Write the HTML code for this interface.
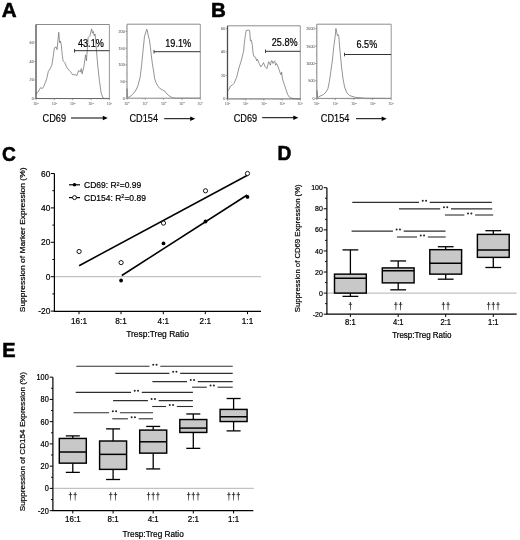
<!DOCTYPE html>
<html><head><meta charset="utf-8"><style>
html,body{margin:0;padding:0;background:#fff;}
svg{display:block;will-change:transform;}
svg text{font-family:"Liberation Sans", sans-serif;}
</style></head><body>
<svg width="520" height="540" viewBox="0 0 520 540" font-family='"Liberation Sans", sans-serif'>
<rect width="520" height="540" fill="#fff"/>
<text transform="translate(1.7,16.7) scale(1.03,1.03)" font-size="20" font-weight="bold" fill="#000" stroke="#000" stroke-width="0.55">A</text>
<text transform="translate(210.9,16.7) scale(1.03,1.03)" font-size="20" font-weight="bold" fill="#000" stroke="#000" stroke-width="0.55">B</text>
<text transform="translate(2.0,160.8) scale(0.96,1.04)" font-size="20" font-weight="bold" fill="#000" stroke="#000" stroke-width="0.55">C</text>
<text transform="translate(277.4,160.4) scale(0.96,1.03)" font-size="20" font-weight="bold" fill="#000" stroke="#000" stroke-width="0.55">D</text>
<text transform="translate(2.2,356.8) scale(1.0,1.03)" font-size="20" font-weight="bold" fill="#000" stroke="#000" stroke-width="0.55">E</text>
<polyline points="35.9,93.75 37.98,92.02 40.58,87.69 42.31,88.56 44.04,85.96 46.63,79.04 48.37,71.25 50.1,68.65 51.83,65.19 52.69,60 54.42,47.88 56.15,47.02 57.02,49.62 57.88,40.96 58.75,32.31 59.62,42.69 60.48,40.96 61.35,45.29 62.21,54.81 63.08,60.87 64.81,62.6 66.54,66.92 69.13,70.38 70.87,72.12 72.6,74.71 75.19,74.71 76.92,75.58 78.65,70.38 80.38,72.12 81.25,68.65 82.12,73.85 83.85,66.92 85.58,54.81 86.44,60.87 87.31,49.62 88.17,37.5 89.9,35.77 91.63,28.85 92.5,33.17 93.37,31.44 94.23,35.77 95.1,34.04 95.96,44.42 97.69,65.19 99.42,80.77 101.15,92.88 102.88,97.73 104.62,98.42 109.81,98.42" fill="none" stroke="#707070" stroke-width="0.75" stroke-linejoin="round"/>
<line x1="36" y1="24.5" x2="109.4" y2="24.5" stroke="#8c8c8c" stroke-width="1.0"/>
<line x1="109.4" y1="24.5" x2="109.4" y2="98.5" stroke="#8c8c8c" stroke-width="0.9"/>
<line x1="36" y1="98.5" x2="109.4" y2="98.5" stroke="#666" stroke-width="1.0"/>
<line x1="36" y1="24.5" x2="36" y2="98.5" stroke="#4a4a4a" stroke-width="1.3"/>
<line x1="34.4" y1="98.5" x2="36" y2="98.5" stroke="#777" stroke-width="0.7"/>
<text transform="translate(33.7,99.8)" font-size="3.7" text-anchor="end" font-weight="normal" fill="#777" stroke="#777" stroke-width="0.12" >0</text>
<line x1="35" y1="89.2" x2="36" y2="89.2" stroke="#999" stroke-width="0.6"/>
<line x1="34.4" y1="79.9" x2="36" y2="79.9" stroke="#777" stroke-width="0.7"/>
<text transform="translate(33.7,81.2)" font-size="3.7" text-anchor="end" font-weight="normal" fill="#777" stroke="#777" stroke-width="0.12" >20</text>
<line x1="35" y1="70.65" x2="36" y2="70.65" stroke="#999" stroke-width="0.6"/>
<line x1="34.4" y1="61.4" x2="36" y2="61.4" stroke="#777" stroke-width="0.7"/>
<text transform="translate(33.7,62.7)" font-size="3.7" text-anchor="end" font-weight="normal" fill="#777" stroke="#777" stroke-width="0.12" >40</text>
<line x1="35" y1="51.8" x2="36" y2="51.8" stroke="#999" stroke-width="0.6"/>
<line x1="34.4" y1="42.2" x2="36" y2="42.2" stroke="#777" stroke-width="0.7"/>
<text transform="translate(33.7,43.5)" font-size="3.7" text-anchor="end" font-weight="normal" fill="#777" stroke="#777" stroke-width="0.12" >60</text>
<line x1="36" y1="98.5" x2="36" y2="100.1" stroke="#777" stroke-width="0.7"/>
<text x="36" y="104.9" font-size="3.6" text-anchor="middle" fill="#888" stroke="#888" stroke-width="0.12">10<tspan font-size="2.5" dy="-1.3">0</tspan></text>
<line x1="41.52" y1="98.5" x2="41.52" y2="99.4" stroke="#999" stroke-width="0.5"/>
<line x1="44.76" y1="98.5" x2="44.76" y2="99.4" stroke="#999" stroke-width="0.5"/>
<line x1="47.05" y1="98.5" x2="47.05" y2="99.4" stroke="#999" stroke-width="0.5"/>
<line x1="48.83" y1="98.5" x2="48.83" y2="99.4" stroke="#999" stroke-width="0.5"/>
<line x1="50.28" y1="98.5" x2="50.28" y2="99.4" stroke="#999" stroke-width="0.5"/>
<line x1="51.51" y1="98.5" x2="51.51" y2="99.4" stroke="#999" stroke-width="0.5"/>
<line x1="52.57" y1="98.5" x2="52.57" y2="99.4" stroke="#999" stroke-width="0.5"/>
<line x1="53.51" y1="98.5" x2="53.51" y2="99.4" stroke="#999" stroke-width="0.5"/>
<line x1="54.35" y1="98.5" x2="54.35" y2="100.1" stroke="#777" stroke-width="0.7"/>
<text x="54.35" y="104.9" font-size="3.6" text-anchor="middle" fill="#888" stroke="#888" stroke-width="0.12">10<tspan font-size="2.5" dy="-1.3">1</tspan></text>
<line x1="59.87" y1="98.5" x2="59.87" y2="99.4" stroke="#999" stroke-width="0.5"/>
<line x1="63.11" y1="98.5" x2="63.11" y2="99.4" stroke="#999" stroke-width="0.5"/>
<line x1="65.4" y1="98.5" x2="65.4" y2="99.4" stroke="#999" stroke-width="0.5"/>
<line x1="67.18" y1="98.5" x2="67.18" y2="99.4" stroke="#999" stroke-width="0.5"/>
<line x1="68.63" y1="98.5" x2="68.63" y2="99.4" stroke="#999" stroke-width="0.5"/>
<line x1="69.86" y1="98.5" x2="69.86" y2="99.4" stroke="#999" stroke-width="0.5"/>
<line x1="70.92" y1="98.5" x2="70.92" y2="99.4" stroke="#999" stroke-width="0.5"/>
<line x1="71.86" y1="98.5" x2="71.86" y2="99.4" stroke="#999" stroke-width="0.5"/>
<line x1="72.7" y1="98.5" x2="72.7" y2="100.1" stroke="#777" stroke-width="0.7"/>
<text x="72.7" y="104.9" font-size="3.6" text-anchor="middle" fill="#888" stroke="#888" stroke-width="0.12">10<tspan font-size="2.5" dy="-1.3">2</tspan></text>
<line x1="78.22" y1="98.5" x2="78.22" y2="99.4" stroke="#999" stroke-width="0.5"/>
<line x1="81.46" y1="98.5" x2="81.46" y2="99.4" stroke="#999" stroke-width="0.5"/>
<line x1="83.75" y1="98.5" x2="83.75" y2="99.4" stroke="#999" stroke-width="0.5"/>
<line x1="85.53" y1="98.5" x2="85.53" y2="99.4" stroke="#999" stroke-width="0.5"/>
<line x1="86.98" y1="98.5" x2="86.98" y2="99.4" stroke="#999" stroke-width="0.5"/>
<line x1="88.21" y1="98.5" x2="88.21" y2="99.4" stroke="#999" stroke-width="0.5"/>
<line x1="89.27" y1="98.5" x2="89.27" y2="99.4" stroke="#999" stroke-width="0.5"/>
<line x1="90.21" y1="98.5" x2="90.21" y2="99.4" stroke="#999" stroke-width="0.5"/>
<line x1="91.05" y1="98.5" x2="91.05" y2="100.1" stroke="#777" stroke-width="0.7"/>
<text x="91.05" y="104.9" font-size="3.6" text-anchor="middle" fill="#888" stroke="#888" stroke-width="0.12">10<tspan font-size="2.5" dy="-1.3">3</tspan></text>
<line x1="96.57" y1="98.5" x2="96.57" y2="99.4" stroke="#999" stroke-width="0.5"/>
<line x1="99.81" y1="98.5" x2="99.81" y2="99.4" stroke="#999" stroke-width="0.5"/>
<line x1="102.1" y1="98.5" x2="102.1" y2="99.4" stroke="#999" stroke-width="0.5"/>
<line x1="103.88" y1="98.5" x2="103.88" y2="99.4" stroke="#999" stroke-width="0.5"/>
<line x1="105.33" y1="98.5" x2="105.33" y2="99.4" stroke="#999" stroke-width="0.5"/>
<line x1="106.56" y1="98.5" x2="106.56" y2="99.4" stroke="#999" stroke-width="0.5"/>
<line x1="107.62" y1="98.5" x2="107.62" y2="99.4" stroke="#999" stroke-width="0.5"/>
<line x1="108.56" y1="98.5" x2="108.56" y2="99.4" stroke="#999" stroke-width="0.5"/>
<line x1="109.4" y1="98.5" x2="109.4" y2="100.1" stroke="#777" stroke-width="0.7"/>
<text x="109.4" y="104.9" font-size="3.6" text-anchor="middle" fill="#888" stroke="#888" stroke-width="0.12">10<tspan font-size="2.5" dy="-1.3">4</tspan></text>
<line x1="74.5" y1="50.7" x2="109.4" y2="50.7" stroke="#333" stroke-width="1.0"/>
<line x1="74.5" y1="48.9" x2="74.5" y2="52.5" stroke="#333" stroke-width="0.9"/>
<text transform="translate(78,46.7) scale(1,1.1)" font-size="9.1" text-anchor="start" font-weight="normal" fill="#000" stroke="#000" stroke-width="0.2" >43.1%</text>
<text transform="translate(42.5,121.8) scale(1,1.1)" font-size="9.2" text-anchor="start" font-weight="normal" fill="#000" stroke="#000" stroke-width="0.15" >CD69</text>
<line x1="71" y1="118" x2="103.8" y2="118" stroke="#000" stroke-width="1.0"/>
<path d="M102.8,115.8 L107.8,118 L102.8,120.2 Z" fill="#000"/>
<polyline points="127,98.2 127,88.5 127.6,97.6 130,96.6 133.7,93.3 136,90 138,85.5 140.2,76.9 141.6,65.3 143,50.9 144.5,36.4 145.9,32.1 146.7,29.2 147.4,30.7 148.1,35 149.3,39.3 150.3,46.5 151.3,55.2 152.4,63.9 153.6,71.1 154.6,78.3 156,82.6 157.5,85.5 159.7,88.4 162.5,89.9 165,91.3 167,94 170,96.5 172.5,97.7 176,98.2 200.3,98.2" fill="none" stroke="#707070" stroke-width="0.75" stroke-linejoin="round"/>
<line x1="127" y1="24.2" x2="200.3" y2="24.2" stroke="#8c8c8c" stroke-width="1.0"/>
<line x1="200.3" y1="24.2" x2="200.3" y2="98.2" stroke="#8c8c8c" stroke-width="0.9"/>
<line x1="127" y1="98.2" x2="200.3" y2="98.2" stroke="#888" stroke-width="1.0"/>
<line x1="127" y1="24.2" x2="127" y2="98.2" stroke="#8a8a8a" stroke-width="1.1"/>
<line x1="125.4" y1="98.2" x2="127" y2="98.2" stroke="#777" stroke-width="0.7"/>
<text transform="translate(124.7,99.5)" font-size="3.7" text-anchor="end" font-weight="normal" fill="#777" stroke="#777" stroke-width="0.12" >0</text>
<line x1="126" y1="89.9" x2="127" y2="89.9" stroke="#999" stroke-width="0.6"/>
<line x1="125.4" y1="81.6" x2="127" y2="81.6" stroke="#777" stroke-width="0.7"/>
<text transform="translate(124.7,82.9)" font-size="3.7" text-anchor="end" font-weight="normal" fill="#777" stroke="#777" stroke-width="0.12" >50</text>
<line x1="126" y1="73.2" x2="127" y2="73.2" stroke="#999" stroke-width="0.6"/>
<line x1="125.4" y1="64.8" x2="127" y2="64.8" stroke="#777" stroke-width="0.7"/>
<text transform="translate(124.7,66.1)" font-size="3.7" text-anchor="end" font-weight="normal" fill="#777" stroke="#777" stroke-width="0.12" >100</text>
<line x1="126" y1="56.5" x2="127" y2="56.5" stroke="#999" stroke-width="0.6"/>
<line x1="125.4" y1="48.2" x2="127" y2="48.2" stroke="#777" stroke-width="0.7"/>
<text transform="translate(124.7,49.5)" font-size="3.7" text-anchor="end" font-weight="normal" fill="#777" stroke="#777" stroke-width="0.12" >150</text>
<line x1="126" y1="39.8" x2="127" y2="39.8" stroke="#999" stroke-width="0.6"/>
<line x1="125.4" y1="31.4" x2="127" y2="31.4" stroke="#777" stroke-width="0.7"/>
<text transform="translate(124.7,32.7)" font-size="3.7" text-anchor="end" font-weight="normal" fill="#777" stroke="#777" stroke-width="0.12" >200</text>
<line x1="127" y1="98.2" x2="127" y2="99.8" stroke="#777" stroke-width="0.7"/>
<text x="127" y="104.6" font-size="3.6" text-anchor="middle" fill="#888" stroke="#888" stroke-width="0.12">10<tspan font-size="2.5" dy="-1.3">0</tspan></text>
<line x1="132.52" y1="98.2" x2="132.52" y2="99.1" stroke="#999" stroke-width="0.5"/>
<line x1="135.74" y1="98.2" x2="135.74" y2="99.1" stroke="#999" stroke-width="0.5"/>
<line x1="138.03" y1="98.2" x2="138.03" y2="99.1" stroke="#999" stroke-width="0.5"/>
<line x1="139.81" y1="98.2" x2="139.81" y2="99.1" stroke="#999" stroke-width="0.5"/>
<line x1="141.26" y1="98.2" x2="141.26" y2="99.1" stroke="#999" stroke-width="0.5"/>
<line x1="142.49" y1="98.2" x2="142.49" y2="99.1" stroke="#999" stroke-width="0.5"/>
<line x1="143.55" y1="98.2" x2="143.55" y2="99.1" stroke="#999" stroke-width="0.5"/>
<line x1="144.49" y1="98.2" x2="144.49" y2="99.1" stroke="#999" stroke-width="0.5"/>
<line x1="145.32" y1="98.2" x2="145.32" y2="99.8" stroke="#777" stroke-width="0.7"/>
<text x="145.32" y="104.6" font-size="3.6" text-anchor="middle" fill="#888" stroke="#888" stroke-width="0.12">10<tspan font-size="2.5" dy="-1.3">1</tspan></text>
<line x1="150.84" y1="98.2" x2="150.84" y2="99.1" stroke="#999" stroke-width="0.5"/>
<line x1="154.07" y1="98.2" x2="154.07" y2="99.1" stroke="#999" stroke-width="0.5"/>
<line x1="156.36" y1="98.2" x2="156.36" y2="99.1" stroke="#999" stroke-width="0.5"/>
<line x1="158.13" y1="98.2" x2="158.13" y2="99.1" stroke="#999" stroke-width="0.5"/>
<line x1="159.58" y1="98.2" x2="159.58" y2="99.1" stroke="#999" stroke-width="0.5"/>
<line x1="160.81" y1="98.2" x2="160.81" y2="99.1" stroke="#999" stroke-width="0.5"/>
<line x1="161.87" y1="98.2" x2="161.87" y2="99.1" stroke="#999" stroke-width="0.5"/>
<line x1="162.81" y1="98.2" x2="162.81" y2="99.1" stroke="#999" stroke-width="0.5"/>
<line x1="163.65" y1="98.2" x2="163.65" y2="99.8" stroke="#777" stroke-width="0.7"/>
<text x="163.65" y="104.6" font-size="3.6" text-anchor="middle" fill="#888" stroke="#888" stroke-width="0.12">10<tspan font-size="2.5" dy="-1.3">2</tspan></text>
<line x1="169.17" y1="98.2" x2="169.17" y2="99.1" stroke="#999" stroke-width="0.5"/>
<line x1="172.39" y1="98.2" x2="172.39" y2="99.1" stroke="#999" stroke-width="0.5"/>
<line x1="174.68" y1="98.2" x2="174.68" y2="99.1" stroke="#999" stroke-width="0.5"/>
<line x1="176.46" y1="98.2" x2="176.46" y2="99.1" stroke="#999" stroke-width="0.5"/>
<line x1="177.91" y1="98.2" x2="177.91" y2="99.1" stroke="#999" stroke-width="0.5"/>
<line x1="179.14" y1="98.2" x2="179.14" y2="99.1" stroke="#999" stroke-width="0.5"/>
<line x1="180.2" y1="98.2" x2="180.2" y2="99.1" stroke="#999" stroke-width="0.5"/>
<line x1="181.14" y1="98.2" x2="181.14" y2="99.1" stroke="#999" stroke-width="0.5"/>
<line x1="181.98" y1="98.2" x2="181.98" y2="99.8" stroke="#777" stroke-width="0.7"/>
<text x="181.98" y="104.6" font-size="3.6" text-anchor="middle" fill="#888" stroke="#888" stroke-width="0.12">10<tspan font-size="2.5" dy="-1.3">3</tspan></text>
<line x1="187.49" y1="98.2" x2="187.49" y2="99.1" stroke="#999" stroke-width="0.5"/>
<line x1="190.72" y1="98.2" x2="190.72" y2="99.1" stroke="#999" stroke-width="0.5"/>
<line x1="193.01" y1="98.2" x2="193.01" y2="99.1" stroke="#999" stroke-width="0.5"/>
<line x1="194.78" y1="98.2" x2="194.78" y2="99.1" stroke="#999" stroke-width="0.5"/>
<line x1="196.23" y1="98.2" x2="196.23" y2="99.1" stroke="#999" stroke-width="0.5"/>
<line x1="197.46" y1="98.2" x2="197.46" y2="99.1" stroke="#999" stroke-width="0.5"/>
<line x1="198.52" y1="98.2" x2="198.52" y2="99.1" stroke="#999" stroke-width="0.5"/>
<line x1="199.46" y1="98.2" x2="199.46" y2="99.1" stroke="#999" stroke-width="0.5"/>
<line x1="200.3" y1="98.2" x2="200.3" y2="99.8" stroke="#777" stroke-width="0.7"/>
<text x="200.3" y="104.6" font-size="3.6" text-anchor="middle" fill="#888" stroke="#888" stroke-width="0.12">10<tspan font-size="2.5" dy="-1.3">4</tspan></text>
<line x1="154" y1="51.7" x2="200.3" y2="51.7" stroke="#333" stroke-width="1.0"/>
<line x1="154" y1="49.9" x2="154" y2="53.5" stroke="#333" stroke-width="0.9"/>
<text transform="translate(165.3,46.9) scale(1,1.1)" font-size="9.1" text-anchor="start" font-weight="normal" fill="#000" stroke="#000" stroke-width="0.2" >19.1%</text>
<text transform="translate(129.4,122.1) scale(1,1.1)" font-size="9.2" text-anchor="start" font-weight="normal" fill="#000" stroke="#000" stroke-width="0.15" >CD154</text>
<line x1="164.2" y1="118.7" x2="191.2" y2="118.7" stroke="#000" stroke-width="1.0"/>
<path d="M190.2,116.5 L195.2,118.7 L190.2,120.9 Z" fill="#000"/>
<polyline points="227.46,91.15 228.85,89.42 230.58,85.96 232.31,85.1 234.04,83.37 236.63,77.31 239.23,66.92 240.96,61.73 242.69,54.81 243.56,51.35 244.42,42.69 245.29,35.77 246.15,30.58 247.02,30.23 248.75,30.23 249.62,30.58 250.48,40.96 251.35,40.1 252.21,44.42 253.08,53.08 253.94,56.54 255.67,57.4 256.54,60.87 257.4,59.13 259.13,63.46 260.87,66.92 262.6,64.33 263.46,62.6 265.19,66.92 266.92,68.65 267.79,65.19 268.65,61.73 269.52,63.46 270.38,65.19 271.25,60.87 272.12,60.87 272.98,63.46 273.85,61.73 274.71,60.87 275.58,65.19 276.44,63.46 278.17,66.92 279.9,72.12 280.77,74.71 281.63,72.12 282.5,79.04 284.23,84.23 285.96,89.42 287.69,94.62 289.42,97.21 291.15,98.08 294.62,98.6 300.33,98.94" fill="none" stroke="#707070" stroke-width="0.75" stroke-linejoin="round"/>
<line x1="227.5" y1="25.8" x2="300.3" y2="25.8" stroke="#8c8c8c" stroke-width="1.0"/>
<line x1="300.3" y1="25.8" x2="300.3" y2="98.9" stroke="#8c8c8c" stroke-width="0.9"/>
<line x1="227.5" y1="98.9" x2="300.3" y2="98.9" stroke="#666" stroke-width="1.0"/>
<line x1="227.5" y1="25.8" x2="227.5" y2="98.9" stroke="#4a4a4a" stroke-width="1.3"/>
<line x1="225.9" y1="98.9" x2="227.5" y2="98.9" stroke="#777" stroke-width="0.7"/>
<text transform="translate(225.2,100.2)" font-size="3.7" text-anchor="end" font-weight="normal" fill="#777" stroke="#777" stroke-width="0.12" >0</text>
<line x1="226.5" y1="87.25" x2="227.5" y2="87.25" stroke="#999" stroke-width="0.6"/>
<line x1="225.9" y1="75.6" x2="227.5" y2="75.6" stroke="#777" stroke-width="0.7"/>
<text transform="translate(225.2,76.9)" font-size="3.7" text-anchor="end" font-weight="normal" fill="#777" stroke="#777" stroke-width="0.12" >20</text>
<line x1="226.5" y1="63.75" x2="227.5" y2="63.75" stroke="#999" stroke-width="0.6"/>
<line x1="225.9" y1="51.9" x2="227.5" y2="51.9" stroke="#777" stroke-width="0.7"/>
<text transform="translate(225.2,53.2)" font-size="3.7" text-anchor="end" font-weight="normal" fill="#777" stroke="#777" stroke-width="0.12" >40</text>
<line x1="226.5" y1="40.35" x2="227.5" y2="40.35" stroke="#999" stroke-width="0.6"/>
<line x1="225.9" y1="28.8" x2="227.5" y2="28.8" stroke="#777" stroke-width="0.7"/>
<text transform="translate(225.2,30.1)" font-size="3.7" text-anchor="end" font-weight="normal" fill="#777" stroke="#777" stroke-width="0.12" >60</text>
<line x1="227.5" y1="98.9" x2="227.5" y2="100.5" stroke="#777" stroke-width="0.7"/>
<text x="227.5" y="105.3" font-size="3.6" text-anchor="middle" fill="#888" stroke="#888" stroke-width="0.12">10<tspan font-size="2.5" dy="-1.3">0</tspan></text>
<line x1="232.98" y1="98.9" x2="232.98" y2="99.8" stroke="#999" stroke-width="0.5"/>
<line x1="236.18" y1="98.9" x2="236.18" y2="99.8" stroke="#999" stroke-width="0.5"/>
<line x1="238.46" y1="98.9" x2="238.46" y2="99.8" stroke="#999" stroke-width="0.5"/>
<line x1="240.22" y1="98.9" x2="240.22" y2="99.8" stroke="#999" stroke-width="0.5"/>
<line x1="241.66" y1="98.9" x2="241.66" y2="99.8" stroke="#999" stroke-width="0.5"/>
<line x1="242.88" y1="98.9" x2="242.88" y2="99.8" stroke="#999" stroke-width="0.5"/>
<line x1="243.94" y1="98.9" x2="243.94" y2="99.8" stroke="#999" stroke-width="0.5"/>
<line x1="244.87" y1="98.9" x2="244.87" y2="99.8" stroke="#999" stroke-width="0.5"/>
<line x1="245.7" y1="98.9" x2="245.7" y2="100.5" stroke="#777" stroke-width="0.7"/>
<text x="245.7" y="105.3" font-size="3.6" text-anchor="middle" fill="#888" stroke="#888" stroke-width="0.12">10<tspan font-size="2.5" dy="-1.3">1</tspan></text>
<line x1="251.18" y1="98.9" x2="251.18" y2="99.8" stroke="#999" stroke-width="0.5"/>
<line x1="254.38" y1="98.9" x2="254.38" y2="99.8" stroke="#999" stroke-width="0.5"/>
<line x1="256.66" y1="98.9" x2="256.66" y2="99.8" stroke="#999" stroke-width="0.5"/>
<line x1="258.42" y1="98.9" x2="258.42" y2="99.8" stroke="#999" stroke-width="0.5"/>
<line x1="259.86" y1="98.9" x2="259.86" y2="99.8" stroke="#999" stroke-width="0.5"/>
<line x1="261.08" y1="98.9" x2="261.08" y2="99.8" stroke="#999" stroke-width="0.5"/>
<line x1="262.14" y1="98.9" x2="262.14" y2="99.8" stroke="#999" stroke-width="0.5"/>
<line x1="263.07" y1="98.9" x2="263.07" y2="99.8" stroke="#999" stroke-width="0.5"/>
<line x1="263.9" y1="98.9" x2="263.9" y2="100.5" stroke="#777" stroke-width="0.7"/>
<text x="263.9" y="105.3" font-size="3.6" text-anchor="middle" fill="#888" stroke="#888" stroke-width="0.12">10<tspan font-size="2.5" dy="-1.3">2</tspan></text>
<line x1="269.38" y1="98.9" x2="269.38" y2="99.8" stroke="#999" stroke-width="0.5"/>
<line x1="272.58" y1="98.9" x2="272.58" y2="99.8" stroke="#999" stroke-width="0.5"/>
<line x1="274.86" y1="98.9" x2="274.86" y2="99.8" stroke="#999" stroke-width="0.5"/>
<line x1="276.62" y1="98.9" x2="276.62" y2="99.8" stroke="#999" stroke-width="0.5"/>
<line x1="278.06" y1="98.9" x2="278.06" y2="99.8" stroke="#999" stroke-width="0.5"/>
<line x1="279.28" y1="98.9" x2="279.28" y2="99.8" stroke="#999" stroke-width="0.5"/>
<line x1="280.34" y1="98.9" x2="280.34" y2="99.8" stroke="#999" stroke-width="0.5"/>
<line x1="281.27" y1="98.9" x2="281.27" y2="99.8" stroke="#999" stroke-width="0.5"/>
<line x1="282.1" y1="98.9" x2="282.1" y2="100.5" stroke="#777" stroke-width="0.7"/>
<text x="282.1" y="105.3" font-size="3.6" text-anchor="middle" fill="#888" stroke="#888" stroke-width="0.12">10<tspan font-size="2.5" dy="-1.3">3</tspan></text>
<line x1="287.58" y1="98.9" x2="287.58" y2="99.8" stroke="#999" stroke-width="0.5"/>
<line x1="290.78" y1="98.9" x2="290.78" y2="99.8" stroke="#999" stroke-width="0.5"/>
<line x1="293.06" y1="98.9" x2="293.06" y2="99.8" stroke="#999" stroke-width="0.5"/>
<line x1="294.82" y1="98.9" x2="294.82" y2="99.8" stroke="#999" stroke-width="0.5"/>
<line x1="296.26" y1="98.9" x2="296.26" y2="99.8" stroke="#999" stroke-width="0.5"/>
<line x1="297.48" y1="98.9" x2="297.48" y2="99.8" stroke="#999" stroke-width="0.5"/>
<line x1="298.54" y1="98.9" x2="298.54" y2="99.8" stroke="#999" stroke-width="0.5"/>
<line x1="299.47" y1="98.9" x2="299.47" y2="99.8" stroke="#999" stroke-width="0.5"/>
<line x1="300.3" y1="98.9" x2="300.3" y2="100.5" stroke="#777" stroke-width="0.7"/>
<text x="300.3" y="105.3" font-size="3.6" text-anchor="middle" fill="#888" stroke="#888" stroke-width="0.12">10<tspan font-size="2.5" dy="-1.3">4</tspan></text>
<line x1="265.5" y1="51.3" x2="300.3" y2="51.3" stroke="#333" stroke-width="1.0"/>
<line x1="265.5" y1="49.5" x2="265.5" y2="53.1" stroke="#333" stroke-width="0.9"/>
<text transform="translate(271.8,45.8) scale(1,1.1)" font-size="9.1" text-anchor="start" font-weight="normal" fill="#000" stroke="#000" stroke-width="0.2" >25.8%</text>
<text transform="translate(233.7,121.6) scale(1,1.1)" font-size="9.2" text-anchor="start" font-weight="normal" fill="#000" stroke="#000" stroke-width="0.15" >CD69</text>
<line x1="262.2" y1="117.7" x2="294.3" y2="117.7" stroke="#000" stroke-width="1.0"/>
<path d="M293.3,115.5 L298.3,117.7 L293.3,119.9 Z" fill="#000"/>
<polyline points="317,98.4 317,90.5 317.6,97.6 320,96.2 323.7,94.4 326,92 328,88.4 329.4,81.2 330.9,71.1 332.3,61 333.8,46.5 335.2,36.4 335.9,28.5 336.7,32.1 337.4,35.7 338.4,34.7 338.8,36.4 339.5,45.1 340.7,58.1 341.7,68.2 343.2,79.8 344.6,87 346.8,92.8 349.7,95.6 355,97.3 365,98.2 391,98.4" fill="none" stroke="#707070" stroke-width="0.75" stroke-linejoin="round"/>
<line x1="316.8" y1="24.2" x2="391.2" y2="24.2" stroke="#8c8c8c" stroke-width="1.0"/>
<line x1="391.2" y1="24.2" x2="391.2" y2="98.4" stroke="#8c8c8c" stroke-width="0.9"/>
<line x1="316.8" y1="98.4" x2="391.2" y2="98.4" stroke="#888" stroke-width="1.0"/>
<line x1="316.8" y1="24.2" x2="316.8" y2="98.4" stroke="#8a8a8a" stroke-width="1.1"/>
<line x1="315.2" y1="98.4" x2="316.8" y2="98.4" stroke="#777" stroke-width="0.7"/>
<text transform="translate(314.5,99.7)" font-size="3.7" text-anchor="end" font-weight="normal" fill="#777" stroke="#777" stroke-width="0.12" >0</text>
<line x1="315.8" y1="89.6" x2="316.8" y2="89.6" stroke="#999" stroke-width="0.6"/>
<line x1="315.2" y1="80.8" x2="316.8" y2="80.8" stroke="#777" stroke-width="0.7"/>
<text transform="translate(314.5,82.1)" font-size="3.7" text-anchor="end" font-weight="normal" fill="#777" stroke="#777" stroke-width="0.12" >500</text>
<line x1="315.8" y1="72.15" x2="316.8" y2="72.15" stroke="#999" stroke-width="0.6"/>
<line x1="315.2" y1="63.5" x2="316.8" y2="63.5" stroke="#777" stroke-width="0.7"/>
<text transform="translate(314.5,64.8)" font-size="3.7" text-anchor="end" font-weight="normal" fill="#777" stroke="#777" stroke-width="0.12" >1000</text>
<line x1="315.8" y1="54.85" x2="316.8" y2="54.85" stroke="#999" stroke-width="0.6"/>
<line x1="315.2" y1="46.2" x2="316.8" y2="46.2" stroke="#777" stroke-width="0.7"/>
<text transform="translate(314.5,47.5)" font-size="3.7" text-anchor="end" font-weight="normal" fill="#777" stroke="#777" stroke-width="0.12" >1500</text>
<line x1="315.8" y1="37.5" x2="316.8" y2="37.5" stroke="#999" stroke-width="0.6"/>
<line x1="315.2" y1="28.8" x2="316.8" y2="28.8" stroke="#777" stroke-width="0.7"/>
<text transform="translate(314.5,30.1)" font-size="3.7" text-anchor="end" font-weight="normal" fill="#777" stroke="#777" stroke-width="0.12" >2000</text>
<line x1="316.8" y1="98.4" x2="316.8" y2="100" stroke="#777" stroke-width="0.7"/>
<text x="316.8" y="104.8" font-size="3.6" text-anchor="middle" fill="#888" stroke="#888" stroke-width="0.12">10<tspan font-size="2.5" dy="-1.3">0</tspan></text>
<line x1="322.4" y1="98.4" x2="322.4" y2="99.3" stroke="#999" stroke-width="0.5"/>
<line x1="325.67" y1="98.4" x2="325.67" y2="99.3" stroke="#999" stroke-width="0.5"/>
<line x1="328" y1="98.4" x2="328" y2="99.3" stroke="#999" stroke-width="0.5"/>
<line x1="329.8" y1="98.4" x2="329.8" y2="99.3" stroke="#999" stroke-width="0.5"/>
<line x1="331.27" y1="98.4" x2="331.27" y2="99.3" stroke="#999" stroke-width="0.5"/>
<line x1="332.52" y1="98.4" x2="332.52" y2="99.3" stroke="#999" stroke-width="0.5"/>
<line x1="333.6" y1="98.4" x2="333.6" y2="99.3" stroke="#999" stroke-width="0.5"/>
<line x1="334.55" y1="98.4" x2="334.55" y2="99.3" stroke="#999" stroke-width="0.5"/>
<line x1="335.4" y1="98.4" x2="335.4" y2="100" stroke="#777" stroke-width="0.7"/>
<text x="335.4" y="104.8" font-size="3.6" text-anchor="middle" fill="#888" stroke="#888" stroke-width="0.12">10<tspan font-size="2.5" dy="-1.3">1</tspan></text>
<line x1="341" y1="98.4" x2="341" y2="99.3" stroke="#999" stroke-width="0.5"/>
<line x1="344.27" y1="98.4" x2="344.27" y2="99.3" stroke="#999" stroke-width="0.5"/>
<line x1="346.6" y1="98.4" x2="346.6" y2="99.3" stroke="#999" stroke-width="0.5"/>
<line x1="348.4" y1="98.4" x2="348.4" y2="99.3" stroke="#999" stroke-width="0.5"/>
<line x1="349.87" y1="98.4" x2="349.87" y2="99.3" stroke="#999" stroke-width="0.5"/>
<line x1="351.12" y1="98.4" x2="351.12" y2="99.3" stroke="#999" stroke-width="0.5"/>
<line x1="352.2" y1="98.4" x2="352.2" y2="99.3" stroke="#999" stroke-width="0.5"/>
<line x1="353.15" y1="98.4" x2="353.15" y2="99.3" stroke="#999" stroke-width="0.5"/>
<line x1="354" y1="98.4" x2="354" y2="100" stroke="#777" stroke-width="0.7"/>
<text x="354" y="104.8" font-size="3.6" text-anchor="middle" fill="#888" stroke="#888" stroke-width="0.12">10<tspan font-size="2.5" dy="-1.3">2</tspan></text>
<line x1="359.6" y1="98.4" x2="359.6" y2="99.3" stroke="#999" stroke-width="0.5"/>
<line x1="362.87" y1="98.4" x2="362.87" y2="99.3" stroke="#999" stroke-width="0.5"/>
<line x1="365.2" y1="98.4" x2="365.2" y2="99.3" stroke="#999" stroke-width="0.5"/>
<line x1="367" y1="98.4" x2="367" y2="99.3" stroke="#999" stroke-width="0.5"/>
<line x1="368.47" y1="98.4" x2="368.47" y2="99.3" stroke="#999" stroke-width="0.5"/>
<line x1="369.72" y1="98.4" x2="369.72" y2="99.3" stroke="#999" stroke-width="0.5"/>
<line x1="370.8" y1="98.4" x2="370.8" y2="99.3" stroke="#999" stroke-width="0.5"/>
<line x1="371.75" y1="98.4" x2="371.75" y2="99.3" stroke="#999" stroke-width="0.5"/>
<line x1="372.6" y1="98.4" x2="372.6" y2="100" stroke="#777" stroke-width="0.7"/>
<text x="372.6" y="104.8" font-size="3.6" text-anchor="middle" fill="#888" stroke="#888" stroke-width="0.12">10<tspan font-size="2.5" dy="-1.3">3</tspan></text>
<line x1="378.2" y1="98.4" x2="378.2" y2="99.3" stroke="#999" stroke-width="0.5"/>
<line x1="381.47" y1="98.4" x2="381.47" y2="99.3" stroke="#999" stroke-width="0.5"/>
<line x1="383.8" y1="98.4" x2="383.8" y2="99.3" stroke="#999" stroke-width="0.5"/>
<line x1="385.6" y1="98.4" x2="385.6" y2="99.3" stroke="#999" stroke-width="0.5"/>
<line x1="387.07" y1="98.4" x2="387.07" y2="99.3" stroke="#999" stroke-width="0.5"/>
<line x1="388.32" y1="98.4" x2="388.32" y2="99.3" stroke="#999" stroke-width="0.5"/>
<line x1="389.4" y1="98.4" x2="389.4" y2="99.3" stroke="#999" stroke-width="0.5"/>
<line x1="390.35" y1="98.4" x2="390.35" y2="99.3" stroke="#999" stroke-width="0.5"/>
<line x1="391.2" y1="98.4" x2="391.2" y2="100" stroke="#777" stroke-width="0.7"/>
<text x="391.2" y="104.8" font-size="3.6" text-anchor="middle" fill="#888" stroke="#888" stroke-width="0.12">10<tspan font-size="2.5" dy="-1.3">4</tspan></text>
<line x1="344.5" y1="54.5" x2="391.2" y2="54.5" stroke="#333" stroke-width="1.0"/>
<line x1="344.5" y1="52.7" x2="344.5" y2="56.3" stroke="#333" stroke-width="0.9"/>
<text transform="translate(356.5,47.7) scale(1,1.1)" font-size="9.1" text-anchor="start" font-weight="normal" fill="#000" stroke="#000" stroke-width="0.2" >6.5%</text>
<text transform="translate(320.8,122.1) scale(1,1.1)" font-size="9.2" text-anchor="start" font-weight="normal" fill="#000" stroke="#000" stroke-width="0.15" >CD154</text>
<line x1="356" y1="118.7" x2="382.7" y2="118.7" stroke="#000" stroke-width="1.0"/>
<path d="M381.7,116.5 L386.7,118.7 L381.7,120.9 Z" fill="#000"/>
<line x1="54.4" y1="173.5" x2="54.4" y2="311.3" stroke="#000" stroke-width="1.2"/>
<line x1="53.8" y1="311.3" x2="261" y2="311.3" stroke="#000" stroke-width="1.2"/>
<line x1="50.9" y1="173.5" x2="54.4" y2="173.5" stroke="#000" stroke-width="1.0"/>
<text transform="translate(50.4,176.5) scale(1,1.15)" font-size="8.4" text-anchor="end" font-weight="normal" fill="#000" stroke="#000" stroke-width="0.2" >60</text>
<line x1="50.9" y1="207.9" x2="54.4" y2="207.9" stroke="#000" stroke-width="1.0"/>
<text transform="translate(50.4,210.9) scale(1,1.15)" font-size="8.4" text-anchor="end" font-weight="normal" fill="#000" stroke="#000" stroke-width="0.2" >40</text>
<line x1="50.9" y1="242.3" x2="54.4" y2="242.3" stroke="#000" stroke-width="1.0"/>
<text transform="translate(50.4,245.3) scale(1,1.15)" font-size="8.4" text-anchor="end" font-weight="normal" fill="#000" stroke="#000" stroke-width="0.2" >20</text>
<line x1="50.9" y1="276.7" x2="54.4" y2="276.7" stroke="#000" stroke-width="1.0"/>
<text transform="translate(50.4,279.7) scale(1,1.15)" font-size="8.4" text-anchor="end" font-weight="normal" fill="#000" stroke="#000" stroke-width="0.2" >0</text>
<line x1="50.9" y1="311.1" x2="54.4" y2="311.1" stroke="#000" stroke-width="1.0"/>
<text transform="translate(50.4,314.1) scale(1,1.15)" font-size="8.4" text-anchor="end" font-weight="normal" fill="#000" stroke="#000" stroke-width="0.2" >-20</text>
<line x1="52.4" y1="190.7" x2="54.4" y2="190.7" stroke="#000" stroke-width="1.0"/>
<line x1="52.4" y1="225.1" x2="54.4" y2="225.1" stroke="#000" stroke-width="1.0"/>
<line x1="52.4" y1="259.5" x2="54.4" y2="259.5" stroke="#000" stroke-width="1.0"/>
<line x1="52.4" y1="293.9" x2="54.4" y2="293.9" stroke="#000" stroke-width="1.0"/>
<line x1="55" y1="276.7" x2="261" y2="276.7" stroke="#c2c2c2" stroke-width="1.3"/>
<line x1="79" y1="311.3" x2="79" y2="314.2" stroke="#000" stroke-width="1.0"/>
<text transform="translate(79,323.6) scale(1,1.15)" font-size="8.2" text-anchor="middle" font-weight="normal" fill="#000" stroke="#000" stroke-width="0.2" >16:1</text>
<line x1="121" y1="311.3" x2="121" y2="314.2" stroke="#000" stroke-width="1.0"/>
<text transform="translate(121,323.6) scale(1,1.15)" font-size="8.2" text-anchor="middle" font-weight="normal" fill="#000" stroke="#000" stroke-width="0.2" >8:1</text>
<line x1="163.3" y1="311.3" x2="163.3" y2="314.2" stroke="#000" stroke-width="1.0"/>
<text transform="translate(163.3,323.6) scale(1,1.15)" font-size="8.2" text-anchor="middle" font-weight="normal" fill="#000" stroke="#000" stroke-width="0.2" >4:1</text>
<line x1="205.3" y1="311.3" x2="205.3" y2="314.2" stroke="#000" stroke-width="1.0"/>
<text transform="translate(205.3,323.6) scale(1,1.15)" font-size="8.2" text-anchor="middle" font-weight="normal" fill="#000" stroke="#000" stroke-width="0.2" >2:1</text>
<line x1="247.5" y1="311.3" x2="247.5" y2="314.2" stroke="#000" stroke-width="1.0"/>
<text transform="translate(247.5,323.6) scale(1,1.15)" font-size="8.2" text-anchor="middle" font-weight="normal" fill="#000" stroke="#000" stroke-width="0.2" >1:1</text>
<text transform="translate(157.5,337.4) scale(1,1.15)" font-size="8.45" text-anchor="middle" font-weight="normal" fill="#000" stroke="#000" stroke-width="0.2" >Tresp:Treg Ratio</text>
<text transform="translate(25.4,239.9) rotate(-90) scale(1.06,1)" font-size="7.98" text-anchor="middle" fill="#000" stroke="#000" stroke-width="0.2">Suppression of Marker Expression (%)</text>
<line x1="79.1" y1="265.7" x2="247.5" y2="175.3" stroke="#000" stroke-width="1.55"/>
<line x1="121.8" y1="275.5" x2="247.2" y2="195" stroke="#000" stroke-width="1.55"/>
<circle cx="79.1" cy="251.5" r="2.1" fill="#fff" stroke="#000" stroke-width="0.9"/>
<circle cx="121.1" cy="262.6" r="2.1" fill="#fff" stroke="#000" stroke-width="0.9"/>
<circle cx="163.5" cy="223.1" r="2.1" fill="#fff" stroke="#000" stroke-width="0.9"/>
<circle cx="205.5" cy="190.8" r="2.1" fill="#fff" stroke="#000" stroke-width="0.9"/>
<circle cx="247.5" cy="173.5" r="2.1" fill="#fff" stroke="#000" stroke-width="0.9"/>
<circle cx="121.1" cy="280.5" r="1.9" fill="#000"/>
<circle cx="163.5" cy="243.4" r="1.9" fill="#000"/>
<circle cx="205.5" cy="221.5" r="1.9" fill="#000"/>
<circle cx="247.5" cy="196.9" r="1.9" fill="#000"/>
<line x1="69" y1="184.8" x2="80" y2="184.8" stroke="#000" stroke-width="1.2"/>
<circle cx="74.5" cy="184.8" r="1.8" fill="#000"/>
<line x1="69" y1="197.6" x2="80" y2="197.6" stroke="#000" stroke-width="1.2"/>
<circle cx="74.5" cy="197.6" r="2" fill="#fff" stroke="#000" stroke-width="0.9"/>
<text transform="translate(84,188.4) scale(1,1.07)" font-size="8.5" stroke="#000" stroke-width="0.2">CD69: R<tspan font-size="5.6" dy="-2.7">2</tspan><tspan dy="2.7">=0.99</tspan></text>
<text transform="translate(84,201.3) scale(1,1.07)" font-size="8.5" stroke="#000" stroke-width="0.2">CD154: R<tspan font-size="5.6" dy="-2.7">2</tspan><tspan dy="2.7">=0.89</tspan></text>
<line x1="327.5" y1="293.1" x2="516.7" y2="293.1" stroke="#c2c2c2" stroke-width="1.3"/>
<line x1="350.4" y1="249.89" x2="350.4" y2="274.13" stroke="#000" stroke-width="1.3"/>
<line x1="350.4" y1="293.1" x2="350.4" y2="296.37" stroke="#000" stroke-width="1.3"/>
<line x1="342.5" y1="249.89" x2="358.3" y2="249.89" stroke="#000" stroke-width="1.3"/>
<line x1="342.5" y1="296.37" x2="358.3" y2="296.37" stroke="#000" stroke-width="1.3"/>
<rect x="334.5" y="274.13" width="31.8" height="18.97" fill="#c8c8c8" stroke="#000" stroke-width="1.45"/>
<line x1="334.5" y1="278.13" x2="366.3" y2="278.13" stroke="#000" stroke-width="1.5"/>
<line x1="398.2" y1="260.95" x2="398.2" y2="267.91" stroke="#000" stroke-width="1.3"/>
<line x1="398.2" y1="282.88" x2="398.2" y2="289.83" stroke="#000" stroke-width="1.3"/>
<line x1="390.3" y1="260.95" x2="406.1" y2="260.95" stroke="#000" stroke-width="1.3"/>
<line x1="390.3" y1="289.83" x2="406.1" y2="289.83" stroke="#000" stroke-width="1.3"/>
<rect x="382.3" y="267.91" width="31.8" height="14.97" fill="#c8c8c8" stroke="#000" stroke-width="1.45"/>
<line x1="382.3" y1="270.86" x2="414.1" y2="270.86" stroke="#000" stroke-width="1.5"/>
<line x1="445.7" y1="246.72" x2="445.7" y2="249.68" stroke="#000" stroke-width="1.3"/>
<line x1="445.7" y1="274.13" x2="445.7" y2="279.19" stroke="#000" stroke-width="1.3"/>
<line x1="437.8" y1="246.72" x2="453.6" y2="246.72" stroke="#000" stroke-width="1.3"/>
<line x1="437.8" y1="279.19" x2="453.6" y2="279.19" stroke="#000" stroke-width="1.3"/>
<rect x="429.8" y="249.68" width="31.8" height="24.45" fill="#c8c8c8" stroke="#000" stroke-width="1.45"/>
<line x1="429.8" y1="263.17" x2="461.6" y2="263.17" stroke="#000" stroke-width="1.5"/>
<line x1="493.3" y1="230.7" x2="493.3" y2="234.39" stroke="#000" stroke-width="1.3"/>
<line x1="493.3" y1="257.37" x2="493.3" y2="267.49" stroke="#000" stroke-width="1.3"/>
<line x1="485.4" y1="230.7" x2="501.2" y2="230.7" stroke="#000" stroke-width="1.3"/>
<line x1="485.4" y1="267.49" x2="501.2" y2="267.49" stroke="#000" stroke-width="1.3"/>
<rect x="477.4" y="234.39" width="31.8" height="22.98" fill="#c8c8c8" stroke="#000" stroke-width="1.45"/>
<line x1="477.4" y1="249.99" x2="509.2" y2="249.99" stroke="#000" stroke-width="1.5"/>
<line x1="326.9" y1="187.7" x2="326.9" y2="314.18" stroke="#000" stroke-width="1.2"/>
<line x1="326.3" y1="314.18" x2="516.7" y2="314.18" stroke="#000" stroke-width="1.2"/>
<line x1="323.7" y1="187.7" x2="326.9" y2="187.7" stroke="#000" stroke-width="1.0"/>
<text transform="translate(322.8,190.3) scale(1,1.15)" font-size="7.0" text-anchor="end" font-weight="normal" fill="#000" stroke="#000" stroke-width="0.2" >100</text>
<line x1="325.1" y1="198.24" x2="326.9" y2="198.24" stroke="#000" stroke-width="1.0"/>
<line x1="323.7" y1="208.78" x2="326.9" y2="208.78" stroke="#000" stroke-width="1.0"/>
<text transform="translate(322.8,211.38) scale(1,1.15)" font-size="7.0" text-anchor="end" font-weight="normal" fill="#000" stroke="#000" stroke-width="0.2" >80</text>
<line x1="325.1" y1="219.32" x2="326.9" y2="219.32" stroke="#000" stroke-width="1.0"/>
<line x1="323.7" y1="229.86" x2="326.9" y2="229.86" stroke="#000" stroke-width="1.0"/>
<text transform="translate(322.8,232.46) scale(1,1.15)" font-size="7.0" text-anchor="end" font-weight="normal" fill="#000" stroke="#000" stroke-width="0.2" >60</text>
<line x1="325.1" y1="240.4" x2="326.9" y2="240.4" stroke="#000" stroke-width="1.0"/>
<line x1="323.7" y1="250.94" x2="326.9" y2="250.94" stroke="#000" stroke-width="1.0"/>
<text transform="translate(322.8,253.54) scale(1,1.15)" font-size="7.0" text-anchor="end" font-weight="normal" fill="#000" stroke="#000" stroke-width="0.2" >40</text>
<line x1="325.1" y1="261.48" x2="326.9" y2="261.48" stroke="#000" stroke-width="1.0"/>
<line x1="323.7" y1="272.02" x2="326.9" y2="272.02" stroke="#000" stroke-width="1.0"/>
<text transform="translate(322.8,274.62) scale(1,1.15)" font-size="7.0" text-anchor="end" font-weight="normal" fill="#000" stroke="#000" stroke-width="0.2" >20</text>
<line x1="325.1" y1="282.56" x2="326.9" y2="282.56" stroke="#000" stroke-width="1.0"/>
<line x1="323.7" y1="293.1" x2="326.9" y2="293.1" stroke="#000" stroke-width="1.0"/>
<text transform="translate(322.8,295.7) scale(1,1.15)" font-size="7.0" text-anchor="end" font-weight="normal" fill="#000" stroke="#000" stroke-width="0.2" >0</text>
<line x1="325.1" y1="303.64" x2="326.9" y2="303.64" stroke="#000" stroke-width="1.0"/>
<line x1="323.7" y1="314.18" x2="326.9" y2="314.18" stroke="#000" stroke-width="1.0"/>
<text transform="translate(322.8,316.78) scale(1,1.15)" font-size="7.0" text-anchor="end" font-weight="normal" fill="#000" stroke="#000" stroke-width="0.2" >-20</text>
<line x1="350.4" y1="314.18" x2="350.4" y2="316.98" stroke="#000" stroke-width="1.0"/>
<text transform="translate(350.4,325) scale(1,1.15)" font-size="7.6" text-anchor="middle" font-weight="normal" fill="#000" stroke="#000" stroke-width="0.2" >8:1</text>
<line x1="398.2" y1="314.18" x2="398.2" y2="316.98" stroke="#000" stroke-width="1.0"/>
<text transform="translate(398.2,325) scale(1,1.15)" font-size="7.6" text-anchor="middle" font-weight="normal" fill="#000" stroke="#000" stroke-width="0.2" >4:1</text>
<line x1="445.7" y1="314.18" x2="445.7" y2="316.98" stroke="#000" stroke-width="1.0"/>
<text transform="translate(445.7,325) scale(1,1.15)" font-size="7.6" text-anchor="middle" font-weight="normal" fill="#000" stroke="#000" stroke-width="0.2" >2:1</text>
<line x1="493.3" y1="314.18" x2="493.3" y2="316.98" stroke="#000" stroke-width="1.0"/>
<text transform="translate(493.3,325) scale(1,1.15)" font-size="7.6" text-anchor="middle" font-weight="normal" fill="#000" stroke="#000" stroke-width="0.2" >1:1</text>
<text transform="translate(421.8,337.8) scale(1,1.15)" font-size="8.0" text-anchor="middle" font-weight="normal" fill="#000" stroke="#000" stroke-width="0.2" >Tresp:Treg Ratio</text>
<text transform="translate(300,248.3) rotate(-90) scale(1.06,1)" font-size="7.29" text-anchor="middle" fill="#000" stroke="#000" stroke-width="0.2">Suppression of CD69 Expression (%)</text>
<line x1="352.3" y1="202.4" x2="419" y2="202.4" stroke="#2e2e2e" stroke-width="1.1"/>
<line x1="429.8" y1="202.4" x2="491.8" y2="202.4" stroke="#2e2e2e" stroke-width="1.1"/>
<circle cx="422.75" cy="200.8" r="1.0" fill="#222"/><circle cx="426.05" cy="200.8" r="1.0" fill="#222"/>
<line x1="399" y1="208.9" x2="440.2" y2="208.9" stroke="#2e2e2e" stroke-width="1.1"/>
<line x1="451" y1="208.9" x2="492.2" y2="208.9" stroke="#2e2e2e" stroke-width="1.1"/>
<circle cx="443.95" cy="207.3" r="1.0" fill="#222"/><circle cx="447.25" cy="207.3" r="1.0" fill="#222"/>
<line x1="444.9" y1="215" x2="464.3" y2="215" stroke="#2e2e2e" stroke-width="1.1"/>
<line x1="475.1" y1="215" x2="493.2" y2="215" stroke="#2e2e2e" stroke-width="1.1"/>
<circle cx="468.05" cy="213.4" r="1.0" fill="#222"/><circle cx="471.35" cy="213.4" r="1.0" fill="#222"/>
<line x1="351.6" y1="231.1" x2="392.9" y2="231.1" stroke="#2e2e2e" stroke-width="1.1"/>
<line x1="403.7" y1="231.1" x2="445.5" y2="231.1" stroke="#2e2e2e" stroke-width="1.1"/>
<circle cx="396.65" cy="229.5" r="1.0" fill="#222"/><circle cx="399.95" cy="229.5" r="1.0" fill="#222"/>
<line x1="396.9" y1="237" x2="417" y2="237" stroke="#2e2e2e" stroke-width="1.1"/>
<line x1="427.8" y1="237" x2="445.7" y2="237" stroke="#2e2e2e" stroke-width="1.1"/>
<circle cx="420.75" cy="235.4" r="1.0" fill="#222"/><circle cx="424.05" cy="235.4" r="1.0" fill="#222"/>
<path d="M349.85,302 L350.95,302 L350.7,310.2 L350.1,310.2 Z" fill="#333"/>
<line x1="348.7" y1="304.3" x2="352.1" y2="304.3" stroke="#333" stroke-width="0.9"/>
<path d="M395.3,302 L396.4,302 L396.15,310.2 L395.55,310.2 Z" fill="#333"/>
<line x1="394.15" y1="304.3" x2="397.55" y2="304.3" stroke="#333" stroke-width="0.9"/>
<path d="M400,302 L401.1,302 L400.85,310.2 L400.25,310.2 Z" fill="#333"/>
<line x1="398.85" y1="304.3" x2="402.25" y2="304.3" stroke="#333" stroke-width="0.9"/>
<path d="M442.8,302 L443.9,302 L443.65,310.2 L443.05,310.2 Z" fill="#333"/>
<line x1="441.65" y1="304.3" x2="445.05" y2="304.3" stroke="#333" stroke-width="0.9"/>
<path d="M447.5,302 L448.6,302 L448.35,310.2 L447.75,310.2 Z" fill="#333"/>
<line x1="446.35" y1="304.3" x2="449.75" y2="304.3" stroke="#333" stroke-width="0.9"/>
<path d="M488.05,302 L489.15,302 L488.9,310.2 L488.3,310.2 Z" fill="#333"/>
<line x1="486.9" y1="304.3" x2="490.3" y2="304.3" stroke="#333" stroke-width="0.9"/>
<path d="M492.75,302 L493.85,302 L493.6,310.2 L493,310.2 Z" fill="#333"/>
<line x1="491.6" y1="304.3" x2="495" y2="304.3" stroke="#333" stroke-width="0.9"/>
<path d="M497.45,302 L498.55,302 L498.3,310.2 L497.7,310.2 Z" fill="#333"/>
<line x1="496.3" y1="304.3" x2="499.7" y2="304.3" stroke="#333" stroke-width="0.9"/>
<line x1="53.5" y1="488.4" x2="253.8" y2="488.4" stroke="#c2c2c2" stroke-width="1.3"/>
<line x1="72.8" y1="435.89" x2="72.8" y2="438.45" stroke="#000" stroke-width="1.3"/>
<line x1="72.8" y1="463.15" x2="72.8" y2="472.38" stroke="#000" stroke-width="1.3"/>
<line x1="65.8" y1="435.89" x2="79.8" y2="435.89" stroke="#000" stroke-width="1.3"/>
<line x1="65.8" y1="472.38" x2="79.8" y2="472.38" stroke="#000" stroke-width="1.3"/>
<rect x="59.3" y="438.45" width="27" height="24.7" fill="#c8c8c8" stroke="#000" stroke-width="1.45"/>
<line x1="59.3" y1="452.02" x2="86.3" y2="452.02" stroke="#000" stroke-width="1.5"/>
<line x1="113.1" y1="428.88" x2="113.1" y2="441.01" stroke="#000" stroke-width="1.3"/>
<line x1="113.1" y1="469.38" x2="113.1" y2="479.5" stroke="#000" stroke-width="1.3"/>
<line x1="106.1" y1="428.88" x2="120.1" y2="428.88" stroke="#000" stroke-width="1.3"/>
<line x1="106.1" y1="479.5" x2="120.1" y2="479.5" stroke="#000" stroke-width="1.3"/>
<rect x="99.6" y="441.01" width="27" height="28.37" fill="#c8c8c8" stroke="#000" stroke-width="1.45"/>
<line x1="99.6" y1="454.36" x2="126.6" y2="454.36" stroke="#000" stroke-width="1.5"/>
<line x1="153.2" y1="426.43" x2="153.2" y2="430.1" stroke="#000" stroke-width="1.3"/>
<line x1="153.2" y1="453.13" x2="153.2" y2="468.93" stroke="#000" stroke-width="1.3"/>
<line x1="146.2" y1="426.43" x2="160.2" y2="426.43" stroke="#000" stroke-width="1.3"/>
<line x1="146.2" y1="468.93" x2="160.2" y2="468.93" stroke="#000" stroke-width="1.3"/>
<rect x="139.7" y="430.1" width="27" height="23.03" fill="#c8c8c8" stroke="#000" stroke-width="1.45"/>
<line x1="139.7" y1="441.79" x2="166.7" y2="441.79" stroke="#000" stroke-width="1.5"/>
<line x1="193.3" y1="413.97" x2="193.3" y2="419.54" stroke="#000" stroke-width="1.3"/>
<line x1="193.3" y1="432.44" x2="193.3" y2="448.35" stroke="#000" stroke-width="1.3"/>
<line x1="186.3" y1="413.97" x2="200.3" y2="413.97" stroke="#000" stroke-width="1.3"/>
<line x1="186.3" y1="448.35" x2="200.3" y2="448.35" stroke="#000" stroke-width="1.3"/>
<rect x="179.8" y="419.54" width="27" height="12.9" fill="#c8c8c8" stroke="#000" stroke-width="1.45"/>
<line x1="179.8" y1="428.1" x2="206.8" y2="428.1" stroke="#000" stroke-width="1.5"/>
<line x1="233.6" y1="398.51" x2="233.6" y2="409.41" stroke="#000" stroke-width="1.3"/>
<line x1="233.6" y1="421.54" x2="233.6" y2="430.88" stroke="#000" stroke-width="1.3"/>
<line x1="226.6" y1="398.51" x2="240.6" y2="398.51" stroke="#000" stroke-width="1.3"/>
<line x1="226.6" y1="430.88" x2="240.6" y2="430.88" stroke="#000" stroke-width="1.3"/>
<rect x="220.1" y="409.41" width="27" height="12.13" fill="#c8c8c8" stroke="#000" stroke-width="1.45"/>
<line x1="220.1" y1="416.75" x2="247.1" y2="416.75" stroke="#000" stroke-width="1.5"/>
<line x1="52.9" y1="377.15" x2="52.9" y2="510.65" stroke="#000" stroke-width="1.2"/>
<line x1="52.3" y1="510.65" x2="253.3" y2="510.65" stroke="#000" stroke-width="1.2"/>
<line x1="49.7" y1="377.15" x2="52.9" y2="377.15" stroke="#000" stroke-width="1.0"/>
<text transform="translate(48.8,380.15) scale(1,1.15)" font-size="7.4" text-anchor="end" font-weight="normal" fill="#000" stroke="#000" stroke-width="0.2" >100</text>
<line x1="51.1" y1="388.27" x2="52.9" y2="388.27" stroke="#000" stroke-width="1.0"/>
<line x1="49.7" y1="399.4" x2="52.9" y2="399.4" stroke="#000" stroke-width="1.0"/>
<text transform="translate(48.8,402.4) scale(1,1.15)" font-size="7.4" text-anchor="end" font-weight="normal" fill="#000" stroke="#000" stroke-width="0.2" >80</text>
<line x1="51.1" y1="410.52" x2="52.9" y2="410.52" stroke="#000" stroke-width="1.0"/>
<line x1="49.7" y1="421.65" x2="52.9" y2="421.65" stroke="#000" stroke-width="1.0"/>
<text transform="translate(48.8,424.65) scale(1,1.15)" font-size="7.4" text-anchor="end" font-weight="normal" fill="#000" stroke="#000" stroke-width="0.2" >60</text>
<line x1="51.1" y1="432.77" x2="52.9" y2="432.77" stroke="#000" stroke-width="1.0"/>
<line x1="49.7" y1="443.9" x2="52.9" y2="443.9" stroke="#000" stroke-width="1.0"/>
<text transform="translate(48.8,446.9) scale(1,1.15)" font-size="7.4" text-anchor="end" font-weight="normal" fill="#000" stroke="#000" stroke-width="0.2" >40</text>
<line x1="51.1" y1="455.02" x2="52.9" y2="455.02" stroke="#000" stroke-width="1.0"/>
<line x1="49.7" y1="466.15" x2="52.9" y2="466.15" stroke="#000" stroke-width="1.0"/>
<text transform="translate(48.8,469.15) scale(1,1.15)" font-size="7.4" text-anchor="end" font-weight="normal" fill="#000" stroke="#000" stroke-width="0.2" >20</text>
<line x1="51.1" y1="477.27" x2="52.9" y2="477.27" stroke="#000" stroke-width="1.0"/>
<line x1="49.7" y1="488.4" x2="52.9" y2="488.4" stroke="#000" stroke-width="1.0"/>
<text transform="translate(48.8,491.4) scale(1,1.15)" font-size="7.4" text-anchor="end" font-weight="normal" fill="#000" stroke="#000" stroke-width="0.2" >0</text>
<line x1="51.1" y1="499.52" x2="52.9" y2="499.52" stroke="#000" stroke-width="1.0"/>
<line x1="49.7" y1="510.65" x2="52.9" y2="510.65" stroke="#000" stroke-width="1.0"/>
<text transform="translate(48.8,513.65) scale(1,1.15)" font-size="7.4" text-anchor="end" font-weight="normal" fill="#000" stroke="#000" stroke-width="0.2" >-20</text>
<line x1="72.8" y1="510.65" x2="72.8" y2="513.45" stroke="#000" stroke-width="1.0"/>
<text transform="translate(72.8,521.6) scale(1,1.15)" font-size="8.0" text-anchor="middle" font-weight="normal" fill="#000" stroke="#000" stroke-width="0.2" >16:1</text>
<line x1="113.1" y1="510.65" x2="113.1" y2="513.45" stroke="#000" stroke-width="1.0"/>
<text transform="translate(113.1,521.6) scale(1,1.15)" font-size="8.0" text-anchor="middle" font-weight="normal" fill="#000" stroke="#000" stroke-width="0.2" >8:1</text>
<line x1="153.2" y1="510.65" x2="153.2" y2="513.45" stroke="#000" stroke-width="1.0"/>
<text transform="translate(153.2,521.6) scale(1,1.15)" font-size="8.0" text-anchor="middle" font-weight="normal" fill="#000" stroke="#000" stroke-width="0.2" >4:1</text>
<line x1="193.3" y1="510.65" x2="193.3" y2="513.45" stroke="#000" stroke-width="1.0"/>
<text transform="translate(193.3,521.6) scale(1,1.15)" font-size="8.0" text-anchor="middle" font-weight="normal" fill="#000" stroke="#000" stroke-width="0.2" >2:1</text>
<line x1="233.6" y1="510.65" x2="233.6" y2="513.45" stroke="#000" stroke-width="1.0"/>
<text transform="translate(233.6,521.6) scale(1,1.15)" font-size="8.0" text-anchor="middle" font-weight="normal" fill="#000" stroke="#000" stroke-width="0.2" >1:1</text>
<text transform="translate(153.2,536.5) scale(1,1.15)" font-size="8.25" text-anchor="middle" font-weight="normal" fill="#000" stroke="#000" stroke-width="0.2" >Tresp:Treg Ratio</text>
<text transform="translate(25,441.6) rotate(-90) scale(1.06,1)" font-size="7.69" text-anchor="middle" fill="#000" stroke="#000" stroke-width="0.2">Suppression of CD154 Expression (%)</text>
<line x1="76.3" y1="366.3" x2="149.5" y2="366.3" stroke="#2e2e2e" stroke-width="1.1"/>
<line x1="160.3" y1="366.3" x2="232.7" y2="366.3" stroke="#2e2e2e" stroke-width="1.1"/>
<circle cx="153.25" cy="364.7" r="1.0" fill="#222"/><circle cx="156.55" cy="364.7" r="1.0" fill="#222"/>
<line x1="115.3" y1="373.4" x2="169.4" y2="373.4" stroke="#2e2e2e" stroke-width="1.1"/>
<line x1="180.2" y1="373.4" x2="232.7" y2="373.4" stroke="#2e2e2e" stroke-width="1.1"/>
<circle cx="173.15" cy="371.8" r="1.0" fill="#222"/><circle cx="176.45" cy="371.8" r="1.0" fill="#222"/>
<line x1="152.4" y1="381.6" x2="187" y2="381.6" stroke="#2e2e2e" stroke-width="1.1"/>
<line x1="197.8" y1="381.6" x2="232.7" y2="381.6" stroke="#2e2e2e" stroke-width="1.1"/>
<circle cx="190.75" cy="380" r="1.0" fill="#222"/><circle cx="194.05" cy="380" r="1.0" fill="#222"/>
<line x1="192.1" y1="387.2" x2="206.8" y2="387.2" stroke="#2e2e2e" stroke-width="1.1"/>
<line x1="217.6" y1="387.2" x2="232.7" y2="387.2" stroke="#2e2e2e" stroke-width="1.1"/>
<circle cx="210.55" cy="385.6" r="1.0" fill="#222"/><circle cx="213.85" cy="385.6" r="1.0" fill="#222"/>
<line x1="75.7" y1="392.4" x2="131" y2="392.4" stroke="#2e2e2e" stroke-width="1.1"/>
<line x1="141.8" y1="392.4" x2="192.9" y2="392.4" stroke="#2e2e2e" stroke-width="1.1"/>
<circle cx="134.75" cy="390.8" r="1.0" fill="#222"/><circle cx="138.05" cy="390.8" r="1.0" fill="#222"/>
<line x1="113.1" y1="400.6" x2="147.9" y2="400.6" stroke="#2e2e2e" stroke-width="1.1"/>
<line x1="158.7" y1="400.6" x2="192.9" y2="400.6" stroke="#2e2e2e" stroke-width="1.1"/>
<circle cx="151.65" cy="399" r="1.0" fill="#222"/><circle cx="154.95" cy="399" r="1.0" fill="#222"/>
<line x1="152.2" y1="406.5" x2="166" y2="406.5" stroke="#2e2e2e" stroke-width="1.1"/>
<line x1="176.8" y1="406.5" x2="192.9" y2="406.5" stroke="#2e2e2e" stroke-width="1.1"/>
<circle cx="169.75" cy="404.9" r="1.0" fill="#222"/><circle cx="173.05" cy="404.9" r="1.0" fill="#222"/>
<line x1="73.5" y1="412.8" x2="109.1" y2="412.8" stroke="#2e2e2e" stroke-width="1.1"/>
<line x1="119.9" y1="412.8" x2="153" y2="412.8" stroke="#2e2e2e" stroke-width="1.1"/>
<circle cx="112.85" cy="411.2" r="1.0" fill="#222"/><circle cx="116.15" cy="411.2" r="1.0" fill="#222"/>
<line x1="112.3" y1="418.8" x2="127.9" y2="418.8" stroke="#2e2e2e" stroke-width="1.1"/>
<line x1="138.7" y1="418.8" x2="153" y2="418.8" stroke="#2e2e2e" stroke-width="1.1"/>
<circle cx="131.65" cy="417.2" r="1.0" fill="#222"/><circle cx="134.95" cy="417.2" r="1.0" fill="#222"/>
<path d="M69.9,492.3 L71,492.3 L70.75,500.5 L70.15,500.5 Z" fill="#333"/>
<line x1="68.75" y1="494.6" x2="72.15" y2="494.6" stroke="#333" stroke-width="0.9"/>
<path d="M74.6,492.3 L75.7,492.3 L75.45,500.5 L74.85,500.5 Z" fill="#333"/>
<line x1="73.45" y1="494.6" x2="76.85" y2="494.6" stroke="#333" stroke-width="0.9"/>
<path d="M110.2,492.3 L111.3,492.3 L111.05,500.5 L110.45,500.5 Z" fill="#333"/>
<line x1="109.05" y1="494.6" x2="112.45" y2="494.6" stroke="#333" stroke-width="0.9"/>
<path d="M114.9,492.3 L116,492.3 L115.75,500.5 L115.15,500.5 Z" fill="#333"/>
<line x1="113.75" y1="494.6" x2="117.15" y2="494.6" stroke="#333" stroke-width="0.9"/>
<path d="M147.95,492.3 L149.05,492.3 L148.8,500.5 L148.2,500.5 Z" fill="#333"/>
<line x1="146.8" y1="494.6" x2="150.2" y2="494.6" stroke="#333" stroke-width="0.9"/>
<path d="M152.65,492.3 L153.75,492.3 L153.5,500.5 L152.9,500.5 Z" fill="#333"/>
<line x1="151.5" y1="494.6" x2="154.9" y2="494.6" stroke="#333" stroke-width="0.9"/>
<path d="M157.35,492.3 L158.45,492.3 L158.2,500.5 L157.6,500.5 Z" fill="#333"/>
<line x1="156.2" y1="494.6" x2="159.6" y2="494.6" stroke="#333" stroke-width="0.9"/>
<path d="M188.05,492.3 L189.15,492.3 L188.9,500.5 L188.3,500.5 Z" fill="#333"/>
<line x1="186.9" y1="494.6" x2="190.3" y2="494.6" stroke="#333" stroke-width="0.9"/>
<path d="M192.75,492.3 L193.85,492.3 L193.6,500.5 L193,500.5 Z" fill="#333"/>
<line x1="191.6" y1="494.6" x2="195" y2="494.6" stroke="#333" stroke-width="0.9"/>
<path d="M197.45,492.3 L198.55,492.3 L198.3,500.5 L197.7,500.5 Z" fill="#333"/>
<line x1="196.3" y1="494.6" x2="199.7" y2="494.6" stroke="#333" stroke-width="0.9"/>
<path d="M228.35,492.3 L229.45,492.3 L229.2,500.5 L228.6,500.5 Z" fill="#333"/>
<line x1="227.2" y1="494.6" x2="230.6" y2="494.6" stroke="#333" stroke-width="0.9"/>
<path d="M233.05,492.3 L234.15,492.3 L233.9,500.5 L233.3,500.5 Z" fill="#333"/>
<line x1="231.9" y1="494.6" x2="235.3" y2="494.6" stroke="#333" stroke-width="0.9"/>
<path d="M237.75,492.3 L238.85,492.3 L238.6,500.5 L238,500.5 Z" fill="#333"/>
<line x1="236.6" y1="494.6" x2="240" y2="494.6" stroke="#333" stroke-width="0.9"/>
</svg>
</body></html>
